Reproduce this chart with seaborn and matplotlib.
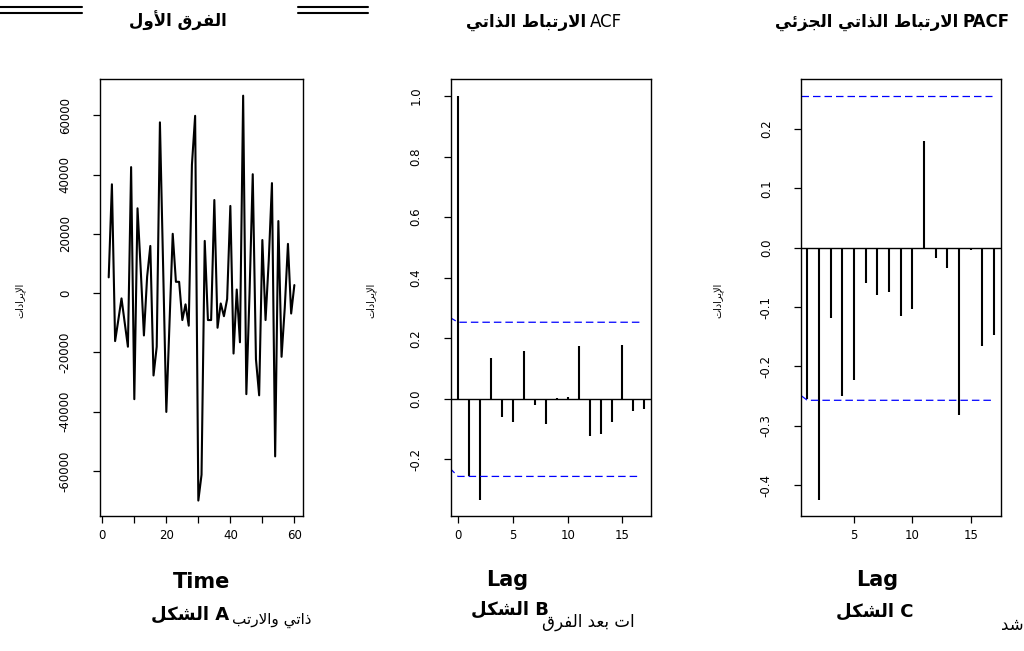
import numpy as np
import pandas as pd
import matplotlib
matplotlib.use("Agg")
import matplotlib.pyplot as plt
from matplotlib.lines import Line2D
import seaborn as sns

# ---------------- data ----------------
time_idx = list(range(2, 61))
diff_values = [5300, 36700, -16200, -9100, -1800, -10000, -18100, 42500, -35800, 28600,
               8000, -14300, 5500, 15900, -27800, -18100, 57600, 9000, -40100, -10000,
               20000, 3800, 3800, -9100, -3800, -11000, 43300, 59800, -70000, -61300,
               17600, -9100, -9100, 31400, -11700, -3500, -7800, -2000, 29400, -20400,
               1200, -16600, 66600, -34100, 0, 40100, -22300, -34500, 17900, -9100,
               11000, 37100, -55100, 24300, -21500, -5000, 16600, -6900, 2700]

acf_lags = list(range(0, 18))
acf_values = [1.0, -0.256, -0.333, 0.136, -0.060, -0.077, 0.158, -0.020, -0.083, 0.002,
              0.005, 0.175, -0.122, -0.117, -0.077, 0.178, -0.040, -0.034]
acf_conf_x = [-0.8, 0.0, 16.7]
acf_conf_upper = [0.270, 0.253, 0.253]
acf_conf_lower = [-0.227, -0.256, -0.256]

pacf_lags = list(range(1, 18))
pacf_values = [-0.255, -0.425, -0.119, -0.249, -0.222, -0.060, -0.080, -0.075, -0.115,
               -0.104, 0.179, -0.017, -0.034, -0.281, -0.004, -0.165, -0.147]
pacf_conf_x_up = [0.46, 16.8]
pacf_conf_upper = [0.256, 0.256]
pacf_conf_x_lo = [0.46, 1.0, 16.8]
pacf_conf_lower = [-0.249, -0.257, -0.257]

ticks_a_x = [0, 10, 20, 30, 40, 50, 60]
labels_a_x = ["0", "", "20", "", "40", "", "60"]
ticks_a_y = [-60000, -40000, -20000, 0, 20000, 40000, 60000]
labels_a_y = ["-60000", "-40000", "-20000", "0", "20000", "40000", "60000"]
ticks_b_x = [0, 5, 10, 15]
ticks_b_y = [-0.2, 0.0, 0.2, 0.4, 0.6, 0.8, 1.0]
labels_b_y = ["-0.2", "0.0", "0.2", "0.4", "0.6", "0.8", "1.0"]
ticks_c_x = [5, 10, 15]
ticks_c_y = [-0.4, -0.3, -0.2, -0.1, 0.0, 0.1, 0.2]
labels_c_y = ["-0.4", "-0.3", "-0.2", "-0.1", "0.0", "0.1", "0.2"]

title_a = "الفرق الأول"
title_b_ar = "الارتباط الذاتي"
title_b_lat = "ACF"
title_c_ar = "الارتباط الذاتي الجزئي"
title_c_lat = "PACF"
ylabel_ar = "الإيرادات"
fig_word = "الشكل"
frag1 = "ذاتي والارتب"
frag2 = "ات بعد الفرق"
frag3 = "شد"

# ---------------- Arabic shaping (presentation forms, visual order) ----------------
FORMS = {
    'ا': ('\uFE8D', '\uFE8E', None, None),
    'أ': ('\uFE83', '\uFE84', None, None),
    'إ': ('\uFE87', '\uFE88', None, None),
    'ب': ('\uFE8F', '\uFE90', '\uFE91', '\uFE92'),
    'ت': ('\uFE95', '\uFE96', '\uFE97', '\uFE98'),
    'ج': ('\uFE9D', '\uFE9E', '\uFE9F', '\uFEA0'),
    'د': ('\uFEA9', '\uFEAA', None, None),
    'ذ': ('\uFEAB', '\uFEAC', None, None),
    'ر': ('\uFEAD', '\uFEAE', None, None),
    'ز': ('\uFEAF', '\uFEB0', None, None),
    'ش': ('\uFEB5', '\uFEB6', '\uFEB7', '\uFEB8'),
    'ط': ('\uFEC1', '\uFEC2', '\uFEC3', '\uFEC4'),
    'ع': ('\uFEC9', '\uFECA', '\uFECB', '\uFECC'),
    'ف': ('\uFED1', '\uFED2', '\uFED3', '\uFED4'),
    'ق': ('\uFED5', '\uFED6', '\uFED7', '\uFED8'),
    'ك': ('\uFED9', '\uFEDA', '\uFEDB', '\uFEDC'),
    'ل': ('\uFEDD', '\uFEDE', '\uFEDF', '\uFEE0'),
    'و': ('\uFEED', '\uFEEE', None, None),
    'ي': ('\uFEF1', '\uFEF2', '\uFEF3', '\uFEF4'),
    'ئ': ('\uFE89', '\uFE8A', '\uFE8B', '\uFE8C'),
}
LIG = {'ا': ('\uFEFB', '\uFEFC'), 'أ': ('\uFEF7', '\uFEF8'), 'إ': ('\uFEF9', '\uFEFA')}


def shape(text):
    toks = []
    i = 0
    while i < len(text):
        c = text[i]
        if c == 'ل' and i + 1 < len(text) and text[i + 1] in LIG:
            toks.append(('L', text[i + 1]))
            i += 2
        else:
            toks.append(('C', c))
            i += 1

    def dual(t):
        return t is not None and t[0] == 'C' and t[1] in FORMS and FORMS[t[1]][2] is not None

    def arab(t):
        return t is not None and (t[0] == 'L' or t[1] in FORMS)

    out = []
    for k, (kind, c) in enumerate(toks):
        prev = toks[k - 1] if k > 0 else None
        nxt = toks[k + 1] if k + 1 < len(toks) else None
        jp = dual(prev)
        if kind == 'L':
            out.append(LIG[c][1] if jp else LIG[c][0])
            continue
        if c not in FORMS:
            out.append(c)
            continue
        f = FORMS[c]
        jn = f[2] is not None and arab(nxt)
        if jp and jn:
            out.append(f[3])
        elif jp:
            out.append(f[1])
        elif jn:
            out.append(f[2])
        else:
            out.append(f[0])
    return ''.join(reversed(out))


# ---------------- figure ----------------
sns.set_theme(style="white")
plt.rcParams['font.family'] = ['DejaVu Sans']
plt.rcParams['text.color'] = 'black'
plt.rcParams['xtick.color'] = 'black'
plt.rcParams['ytick.color'] = 'black'
plt.rcParams['axes.labelcolor'] = 'black'

W, H = 1024, 651
fig = plt.figure(figsize=(W / 100, H / 100), dpi=100)


def fx(px):
    return px / W


def fy(py):
    return 1 - py / H


ax_top, ax_bot = 79, 515.5
axA = fig.add_axes([fx(100), fy(ax_bot), fx(303 - 100), (ax_bot - ax_top) / H])
axB = fig.add_axes([fx(450.7), fy(ax_bot), fx(651 - 450.7), (ax_bot - ax_top) / H])
axC = fig.add_axes([fx(801), fy(ax_bot), fx(1001 - 801), (ax_bot - ax_top) / H])

tick_font = dict(family='DejaVu Sans', size=8.5, color='black')

for ax in (axA, axB, axC):
    for s in ax.spines.values():
        s.set_visible(True)
        s.set_color('black')
        s.set_linewidth(1.0)
    ax.set_facecolor('white')
    ax.grid(False)
    ax.tick_params(axis='both', which='both', direction='out', length=5, width=0.9,
                   color='black', labelcolor='black', left=True, bottom=True)
    ax.tick_params(axis='y', pad=20)
    ax.tick_params(axis='x', pad=5)

# Panel A: time series of first differences
dfA = pd.DataFrame({"t": time_idx, "v": diff_values})
sns.lineplot(data=dfA, x="t", y="v", ax=axA, color='black', linewidth=1.5)
axA.set_xlim(-0.72, 62.7)
axA.set_ylim(-75042, 72225)
axA.set_xticks(ticks_a_x)
axA.set_xticklabels(labels_a_x, **tick_font)
axA.set_yticks(ticks_a_y)
axA.set_yticklabels(labels_a_y, **tick_font)

# Panel B: ACF
dfB = pd.DataFrame({"lag": acf_lags, "acf": acf_values})
axB.vlines(dfB["lag"], 0, dfB["acf"], color='black', linewidth=1.5)
axB.axhline(0, color='black', linewidth=1.0)
sns.lineplot(x=acf_conf_x, y=acf_conf_upper, ax=axB, color='blue', linewidth=0.9,
             linestyle=(0, (6, 3.2)))
sns.lineplot(x=acf_conf_x, y=acf_conf_lower, ax=axB, color='blue', linewidth=0.9,
             linestyle=(0, (6, 3.2)))
axB.set_xlim(-0.67, 17.6)
axB.set_ylim(-0.385, 1.056)
axB.set_xticks(ticks_b_x)
axB.set_xticklabels([str(v) for v in ticks_b_x], **tick_font)
axB.set_yticks(ticks_b_y)
axB.set_yticklabels(labels_b_y, **tick_font)

# Panel C: PACF
dfC = pd.DataFrame({"lag": pacf_lags, "pacf": pacf_values})
axC.vlines(dfC["lag"], 0, dfC["pacf"], color='black', linewidth=1.5)
axC.axhline(0, color='black', linewidth=1.0)
sns.lineplot(x=pacf_conf_x_up, y=pacf_conf_upper, ax=axC, color='blue', linewidth=0.9,
             linestyle=(0, (6, 3.2)))
sns.lineplot(x=pacf_conf_x_lo, y=pacf_conf_lower, ax=axC, color='blue', linewidth=0.9,
             linestyle=(0, (6, 3.2)))
axC.set_xlim(0.46, 17.6)
axC.set_ylim(-0.451, 0.284)
axC.set_xticks(ticks_c_x)
axC.set_xticklabels([str(v) for v in ticks_c_x], **tick_font)
axC.set_yticks(ticks_c_y)
axC.set_yticklabels(labels_c_y, **tick_font)

for ax in (axA, axB, axC):
    ax.set_xlabel("")
    ax.set_ylabel("")
    for lab in ax.get_yticklabels():
        lab.set_rotation(90)
        lab.set_ha('center')
        lab.set_va('center')

# y labels (rotated Arabic)
for xpx in (20, 371, 718):
    fig.text(fx(xpx), fy(300), shape(ylabel_ar), rotation=90, ha='center', va='center',
             fontsize=7, family='DejaVu Sans', color='black')

# titles
fig.text(fx(178), fy(21), shape(title_a), ha='center', va='center', fontsize=12,
         fontweight='bold', family='DejaVu Sans', color='black')
fig.text(fx(586), fy(22), shape(title_b_ar), ha='right', va='center', fontsize=12,
         fontweight='bold', family='DejaVu Sans', color='black')
fig.text(fx(590), fy(22), title_b_lat, ha='left', va='center', fontsize=12,
         family='DejaVu Sans', color='black')
fig.text(fx(958), fy(22), shape(title_c_ar), ha='right', va='center', fontsize=12,
         fontweight='bold', family='DejaVu Sans', color='black')
fig.text(fx(962), fy(22), title_c_lat, ha='left', va='center', fontsize=12,
         fontweight='bold', family='DejaVu Sans', color='black')

# double rules at top
for (x0, x1) in ((0, 82), (298, 368)):
    for ypx in (6.5, 12.5):
        fig.add_artist(Line2D([fx(x0), fx(x1)], [fy(ypx), fy(ypx)], color='black',
                              linewidth=1.5, transform=fig.transFigure))

# axis names below
for (xc, yc, txt) in ((202, 582, "Time"), (507, 580, "Lag"), (877, 580, "Lag")):
    fig.text(fx(xc), fy(yc), txt, ha='center', va='center', fontsize=15,
             fontweight='bold', family='DejaVu Sans', color='black')

# figure captions
for (xc, yc, letter) in ((190, 615, "A"), (510, 610, "B"), (875, 612, "C")):
    fig.text(fx(xc), fy(yc), shape(fig_word) + " " + letter, ha='center', va='center',
             fontsize=13, fontweight='bold', family='DejaVu Sans', color='black')

# fragments of the surrounding document text
fig.text(fx(272), fy(620), shape(frag1), ha='center', va='center', fontsize=11,
         family='DejaVu Sans', color='black')
fig.text(fx(588), fy(622), shape(frag2), ha='center', va='center', fontsize=12,
         family='DejaVu Sans', color='black')
fig.text(fx(1012), fy(625), shape(frag3), ha='center', va='center', fontsize=12,
         family='DejaVu Sans', color='black')

fig.savefig("out.png", dpi=100, facecolor='white')
